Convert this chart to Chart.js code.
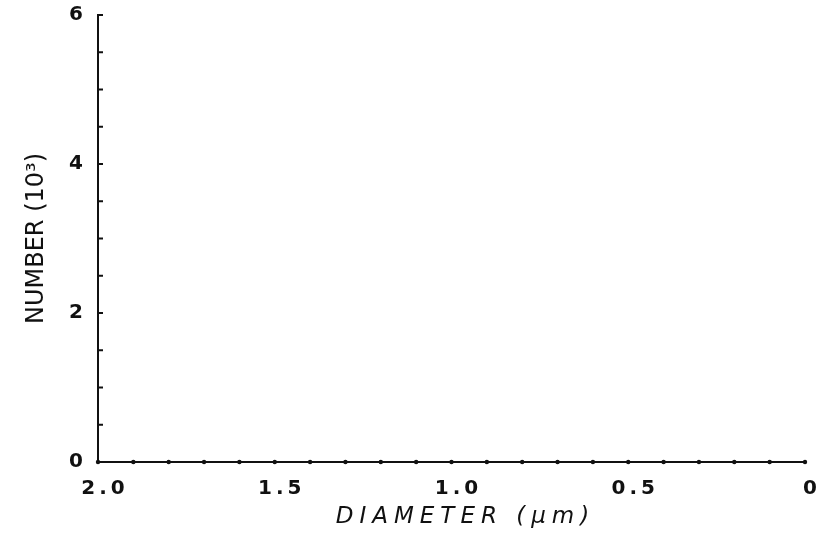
<!DOCTYPE html>
<html>
<head>
<meta charset="utf-8">
<script src="https://cdn.jsdelivr.net/npm/chart.js@4/dist/chart.umd.min.js"></script>
<style>
  html, body { margin: 0; padding: 0; background: #fff; }
  #wrap { width: 831px; height: 533px; position: relative; }
</style>
</head>
<body>
<div id="wrap"><canvas id="sizeChart"></canvas></div>
<script>
// Data: the plot has no points, only the axes
const diameters = [];
const counts = [];

// Axis ranges and labelled ticks
const xRange = [0, 2];
const xStep = 0.1;
const xTickValues = [2.0, 1.5, 1.0, 0.5, 0];
const xTickLabels = ['2.0', '1.5', '1.0', '0.5', '0'];

const yRange = [0, 6];
const yStep = 0.5;
const yTickValues = [0, 2, 4, 6];
const yTickLabels = ['0', '2', '4', '6'];

const ink = '#111';

function labelFor(values, labels, v) {
    const i = values.findIndex(t => Math.abs(t - v) < 1e-6);
    return i >= 0 ? labels[i] : '';
}

// letter spacing for the hand lettered look, per scale title
const tickSpacing = '4px';
const titleSpacing = { x: { spacing: '6px', dx: 14 }, y: { spacing: '0px', dx: 0 } };

const letteringPlugin = {
    id: 'lettering',
    beforeUpdate(chart) { chart.ctx.letterSpacing = tickSpacing; },
    afterLayout(chart) {
        Object.keys(titleSpacing).forEach(id => {
            const scale = chart.scales[id];
            if (!scale || scale._wrappedTitle) return;
            const orig = scale.drawTitle;
            scale.drawTitle = function () {
                const c = this.ctx;
                const prev = c.letterSpacing;
                c.save();
                c.letterSpacing = titleSpacing[id].spacing;
                c.translate(titleSpacing[id].dx, 0);
                orig.call(this);
                c.restore();
                c.letterSpacing = prev;
            };
            scale._wrappedTitle = true;
        });
    },
    beforeDraw(chart) { chart.ctx.letterSpacing = tickSpacing; },
    afterDraw(chart) {
        const { ctx } = chart;
        const x = chart.scales.x;
        const y = chart.scales.y;
        ctx.save();
        ctx.fillStyle = ink;
        ctx.strokeStyle = ink;
        // dots on the x axis
        x.ticks.forEach(t => {
            const px = x.getPixelForValue(t.value);
            ctx.beginPath();
            ctx.arc(px, x.top, 2.2, 0, Math.PI * 2);
            ctx.fill();
        });
        // short inward ticks on the y axis
        ctx.lineWidth = 2;
        y.ticks.forEach(t => {
            const py = y.getPixelForValue(t.value);
            ctx.beginPath();
            ctx.moveTo(y.right - 1, py);
            ctx.lineTo(y.right + 5, py);
            ctx.stroke();
        });
        ctx.restore();
    }
};

const ctx = document.getElementById('sizeChart').getContext('2d');
const sizeChart = new Chart(ctx, {
    type: 'scatter',
    data: {
        datasets: [{
            label: 'Number',
            data: diameters.map((d, i) => ({ x: d, y: counts[i] })),
            borderColor: ink,
            backgroundColor: ink,
            pointRadius: 3
        }]
    },
    options: {
        responsive: true,
        maintainAspectRatio: false,
        animation: false,
        layout: { padding: { top: 15, right: 26, left: 0, bottom: 0 } },
        plugins: {
            legend: { display: false },
            tooltip: { enabled: false }
        },
        scales: {
            x: {
                type: 'linear',
                reverse: true,
                min: xRange[0],
                max: xRange[1],
                afterFit: scale => { scale.height = 71; },
                grid: { display: false, drawTicks: false },
                border: { display: true, color: ink, width: 2 },
                ticks: {
                    stepSize: xStep,
                    autoSkip: false,
                    maxRotation: 0,
                    padding: 15,
                    labelOffset: 7,
                    color: ink,
                    font: { family: 'DejaVu Sans', size: 20, weight: 'bold' },
                    callback: v => labelFor(xTickValues, xTickLabels, v)
                },
                title: {
                    display: true,
                    text: 'DIAMETER (μm)',
                    color: ink,
                    padding: { top: 0, bottom: 2 },
                    font: { family: 'DejaVu Sans', size: 23, style: 'italic' }
                }
            },
            y: {
                type: 'linear',
                min: yRange[0],
                max: yRange[1],
                afterFit: scale => {
                    scale.width = 98;
                    scale.paddingTop = 0;
                    scale.paddingBottom = 0;
                },
                grid: { display: false, drawTicks: false },
                border: { display: true, color: ink, width: 2 },
                ticks: {
                    stepSize: yStep,
                    autoSkip: false,
                    padding: 11,
                    color: ink,
                    font: { family: 'DejaVu Sans', size: 20, weight: 'bold' },
                    callback: v => labelFor(yTickValues, yTickLabels, v)
                },
                title: {
                    display: true,
                    text: 'NUMBER (10³)',
                    color: ink,
                    padding: { top: 22, bottom: 0 },
                    font: { family: 'DejaVu Sans', size: 24 }
                }
            }
        }
    },
    plugins: [letteringPlugin]
});
</script>
</body>
</html>
